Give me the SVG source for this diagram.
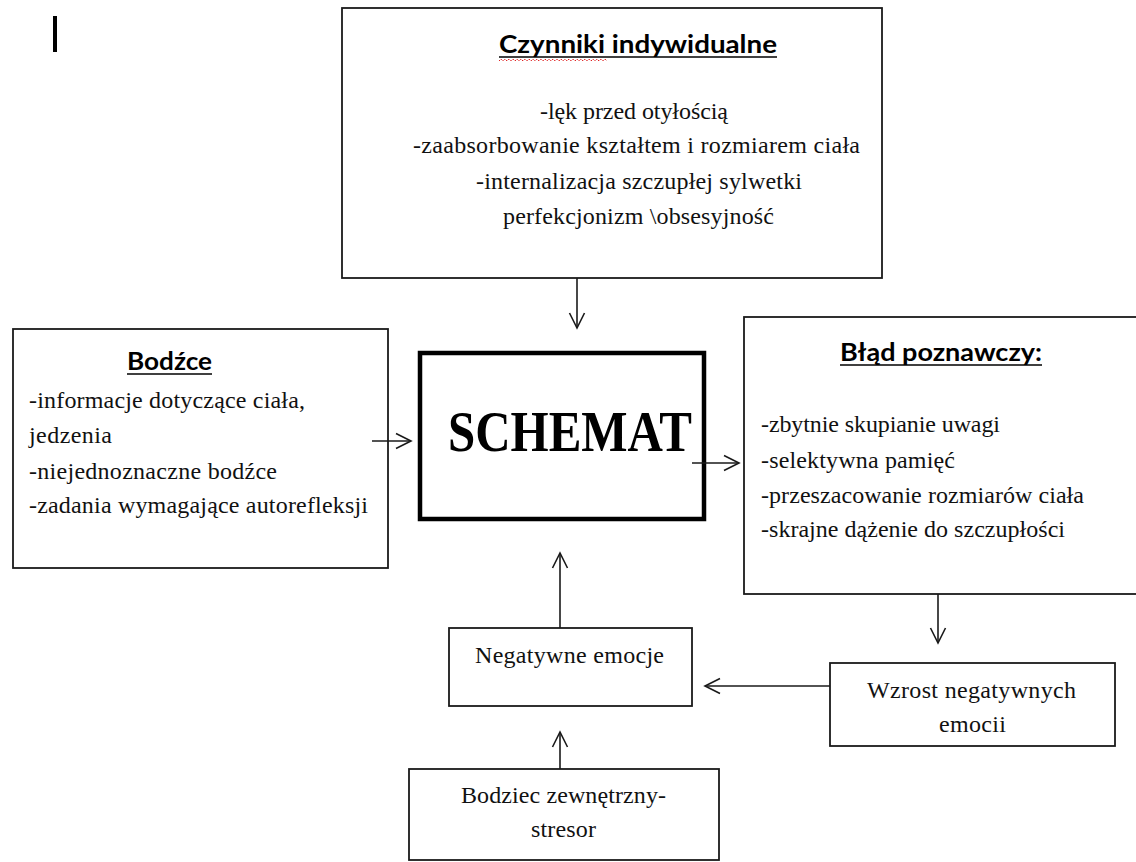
<svg xmlns="http://www.w3.org/2000/svg" width="1136" height="862" viewBox="0 0 1136 862">
<style>
.box{fill:#fff;stroke:#1a1a1a;stroke-width:1.8}
.thick{fill:#fff;stroke:#000;stroke-width:4.5}
.t{font-family:"Liberation Serif","Times New Roman",serif;font-size:24px;fill:#111}
.h{font-family:Lato,"Liberation Sans",sans-serif;font-weight:bold;font-size:25px;fill:#000}
.ul{stroke:#000;stroke-width:1.6}
.c{stroke:#1a1a1a;stroke-width:1.6;fill:none;marker-end:url(#arr)}
</style>
<defs>
<marker id="arr" markerUnits="userSpaceOnUse" viewBox="0 0 18 18" refX="16" refY="9" markerWidth="18" markerHeight="18" orient="auto">
<path d="M1,1.5 L16,9 L1,16.5" fill="none" stroke="#1a1a1a" stroke-width="1.6"/>
</marker>
</defs>
<rect x="0" y="0" width="1136" height="862" fill="#fff"/>
<rect x="53" y="16" width="4" height="36" fill="#000"/>

<g id="czynniki">
<rect class="box" x="342" y="8" width="540" height="270"/>
<text class="h" x="499" y="53" textLength="278" lengthAdjust="spacingAndGlyphs">Czynniki indywidualne</text>
<line class="ul" x1="499" y1="57" x2="777" y2="57"/>
<path d="M499,61 l2,-2 l2,2 l2,-2 l2,2 l2,-2 l2,2 l2,-2 l2,2 l2,-2 l2,2 l2,-2 l2,2 l2,-2 l2,2 l2,-2 l2,2 l2,-2 l2,2 l2,-2 l2,2 l2,-2 l2,2 l2,-2 l2,2 l2,-2 l2,2 l2,-2 l2,2 l2,-2 l2,2 l2,-2 l2,2 l2,-2 l2,2 l2,-2 l2,2 l2,-2 l2,2 l2,-2 l2,2 l2,-2 l2,2 l2,-2 l2,2 l2,-2 l2,2 l2,-2 l2,2 l2,-2 l2,2 l2,-2 l2,2 l2,-2 l2,2" fill="none" stroke="#e02020" stroke-width="1" stroke-dasharray="1.5,1"/>
<text class="t" x="540" y="119" textLength="188" lengthAdjust="spacing">-lęk przed otyłością</text>
<text class="t" x="413" y="153" textLength="447" lengthAdjust="spacing">-zaabsorbowanie kształtem i rozmiarem ciała</text>
<text class="t" x="476" y="189" textLength="326" lengthAdjust="spacing">-internalizacja szczupłej sylwetki</text>
<text class="t" x="503" y="224" textLength="271" lengthAdjust="spacing">perfekcjonizm \obsesyjność</text>
</g>

<g id="bodzce">
<rect class="box" x="13" y="329" width="375" height="239"/>
<text class="h" x="127" y="370" textLength="85" lengthAdjust="spacingAndGlyphs">Bodźce</text>
<line class="ul" x1="127" y1="374" x2="212" y2="374"/>
<text class="t" x="29" y="408" textLength="276" lengthAdjust="spacing">-informacje dotyczące ciała,</text>
<text class="t" x="29" y="443" textLength="83" lengthAdjust="spacing">jedzenia</text>
<text class="t" x="29" y="479" textLength="248" lengthAdjust="spacing">-niejednoznaczne bodźce</text>
<text class="t" x="29" y="513" textLength="339" lengthAdjust="spacing">-zadania wymagające autorefleksji</text>
</g>

<g id="schemat">
<rect class="thick" x="420" y="353" width="284" height="166"/>
<text x="448" y="451" font-family="'Liberation Serif','Times New Roman',serif" font-weight="bold" font-size="56" textLength="244" lengthAdjust="spacingAndGlyphs">SCHEMAT</text>
</g>

<g id="blad">
<rect class="box" x="744" y="317" width="400" height="277"/>
<text class="h" x="840" y="361" textLength="202" lengthAdjust="spacingAndGlyphs">Błąd poznawczy:</text>
<line class="ul" x1="840" y1="365" x2="1042" y2="365"/>
<text class="t" x="761" y="432" textLength="239" lengthAdjust="spacing">-zbytnie skupianie uwagi</text>
<text class="t" x="761" y="468" textLength="194" lengthAdjust="spacing">-selektywna pamięć</text>
<text class="t" x="761" y="503" textLength="323" lengthAdjust="spacing">-przeszacowanie rozmiarów ciała</text>
<text class="t" x="761" y="537" textLength="304" lengthAdjust="spacing">-skrajne dążenie do szczupłości</text>
</g>

<g id="negatywne">
<rect class="box" x="449" y="628" width="243" height="78"/>
<text class="t" x="475" y="663" textLength="189" lengthAdjust="spacing">Negatywne emocje</text>
</g>

<g id="wzrost">
<rect class="box" x="830" y="663" width="285" height="83"/>
<text class="t" x="867" y="698" textLength="209" lengthAdjust="spacing">Wzrost negatywnych</text>
<text class="t" x="939" y="732" textLength="67" lengthAdjust="spacing">emocii</text>
</g>

<g id="bodziec">
<rect class="box" x="409" y="769" width="310" height="91"/>
<text class="t" x="461" y="803" textLength="205" lengthAdjust="spacing">Bodziec zewnętrzny-</text>
<text class="t" x="531" y="837" textLength="65" lengthAdjust="spacing">stresor</text>
</g>

<g id="connectors">
<line class="c" x1="577" y1="278" x2="577" y2="328"/>
<line class="c" x1="372" y1="441" x2="411" y2="441"/>
<line class="c" x1="692" y1="463" x2="739" y2="463"/>
<line class="c" x1="938" y1="594" x2="938" y2="643"/>
<line class="c" x1="830" y1="686" x2="705" y2="686"/>
<line class="c" x1="560" y1="628" x2="560" y2="553"/>
<line class="c" x1="560" y1="769" x2="560" y2="732"/>
</g>
</svg>
